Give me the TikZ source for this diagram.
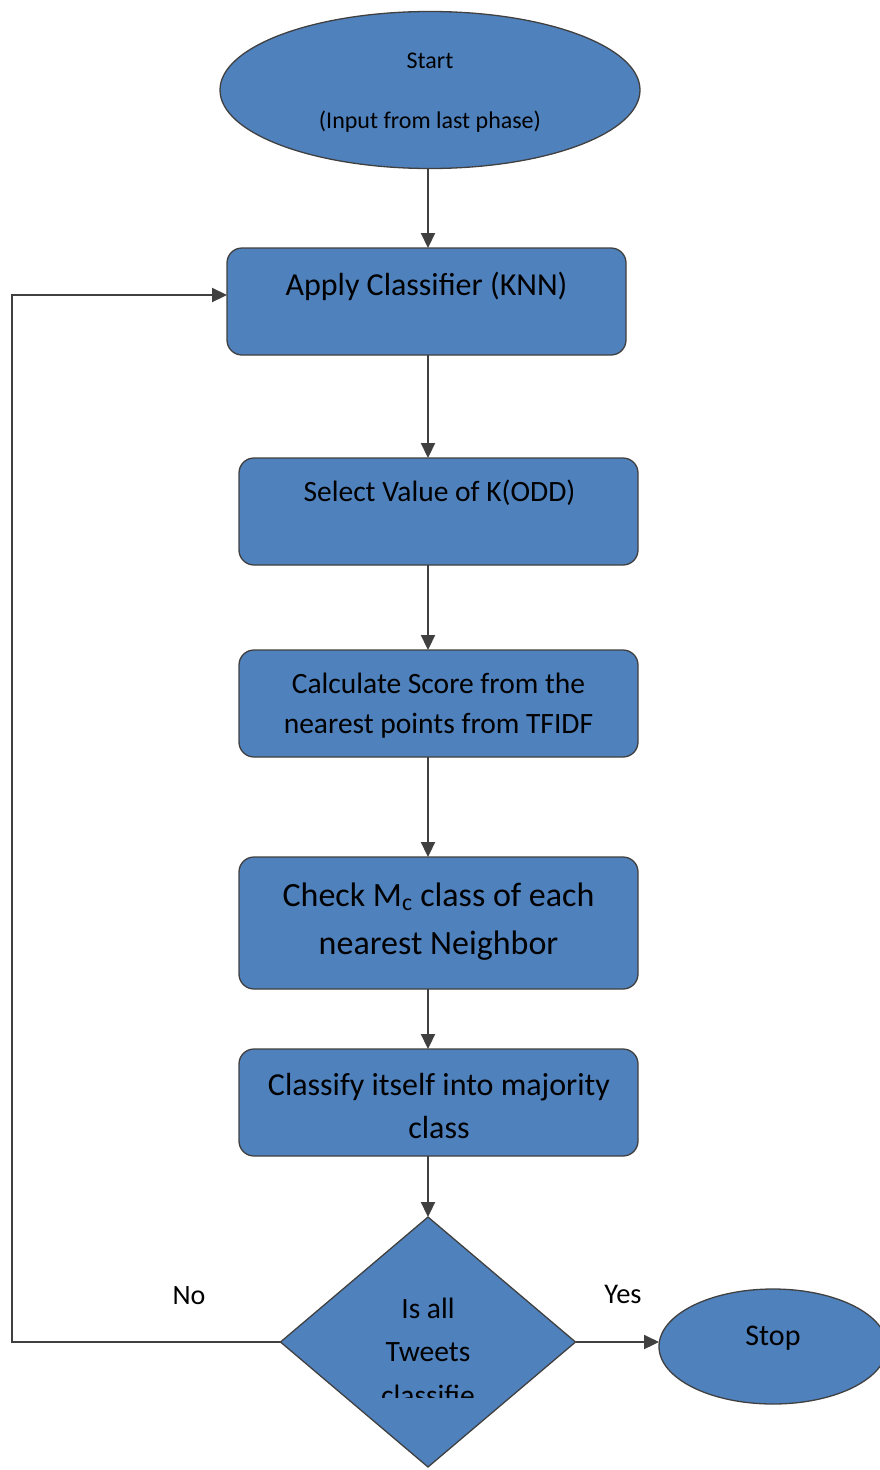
\documentclass[tikz,border=0pt]{standalone}
\usepackage{fontspec}
\setmainfont{Carlito}
\usetikzlibrary{shapes.geometric,arrows.meta}
\definecolor{boxblue}{HTML}{4F81BD}
\definecolor{edgegray}{HTML}{404040}
\newcommand\setfs[2]{\fontsize{#1}{#2}\selectfont}
\begin{document}
\begin{tikzpicture}[x=1pt,y=-1pt,
  every node/.style={inner sep=0pt, outer sep=0pt},
  proc/.style={draw=edgegray, line width=1.3pt, fill=boxblue, rounded corners=15pt,
    minimum width=399pt, minimum height=107pt},
  term/.style={ellipse, draw=edgegray, line width=1.3pt, fill=boxblue},
  decide/.style={diamond, draw=edgegray, line width=1.3pt, fill=boxblue,
    minimum width=295pt, minimum height=250pt, aspect=1.18},
  lbl/.style={anchor=base, align=center, text=black},
  flow/.style={draw=edgegray, line width=2.2pt, -{Triangle[length=15pt,width=14pt]}},
]
\clip (0,0) rectangle (880,1470);

% terminals
\node[term, minimum width=420pt, minimum height=157pt] (start) at (430,90) {};
\node[lbl, font=\setfs{24}{28}] (startt) at (430,68.3) {Start};
\node[lbl, font=\setfs{24}{28}] (startin) at (430,128.3) {(Input from last phase)};

\node[term, minimum width=228pt, minimum height=115pt] (stop) at (773,1346.5) {};
\node[lbl, font=\setfs{30}{34}] (stopt) at (773,1345) {Stop};

% process boxes (multi-line labels are placed by the baseline of their last line)
\node[proc] (apply) at (426.5,301.5) {};
\node[lbl, font=\setfs{32}{40}] (applyt) at (426.5,295) {Apply Classifier (KNN)};

\node[proc] (select) at (438.5,511.5) {};
\node[lbl, font=\setfs{29.5}{34}] (selectt) at (439.5,501) {Select Value of K(ODD)};

\node[proc] (calc) at (438.5,703.5) {};
\node[lbl, font=\setfs{29.5}{40}] (calct) at (438.5,733.3) {Calculate Score from the\\nearest points from TFIDF};

\node[proc, minimum height=132pt] (check) at (438.5,923) {};
\node[lbl, font=\setfs{34}{47.3}] (checkt) at (438.5,954) {Check M\textsubscript{c} class of each\\nearest Neighbor};

\node[proc] (classify) at (438.5,1102.5) {};
\node[lbl, font=\setfs{32}{42.6}] (classt) at (439,1138.3) {Classify itself into majority\\class};

% decision: its text frame cuts the third line short
\node[decide] (decide) at (428,1342) {};
\begin{scope}
  \clip (300,1280) rectangle (560,1397);
  \node[lbl, font=\setfs{29.5}{43.4}] (decidet) at (428,1405) {Is all\\Tweets\\classifie};
\end{scope}

\node[lbl, font=\setfs{28}{30}] (nolbl) at (189,1304.3) {No};
\node[lbl, font=\setfs{28.5}{30}] (yeslbl) at (623,1303.3) {Yes};

% connectors
\coordinate (spine) at (428,0);
\coordinate (loopx) at (12,0);
\coordinate (applyin) at ([yshift=6.5pt]apply.west);

\draw[flow] (spine |- start.south) -- (spine |- apply.north);
\draw[flow] (spine |- apply.south) -- (spine |- select.north);
\draw[flow] (spine |- select.south) -- (spine |- calc.north);
\draw[flow] (spine |- calc.south) -- (spine |- check.north);
\draw[flow] (spine |- check.south) -- (spine |- classify.north);
\draw[flow] (spine |- classify.south) -- (decide.north);
\draw[flow] (decide.east) -- (decide.east -| stop.west);
\draw[flow] (decide.west) -- (loopx |- decide.west) -- (loopx |- applyin) -- (applyin);
\end{tikzpicture}
\end{document}
